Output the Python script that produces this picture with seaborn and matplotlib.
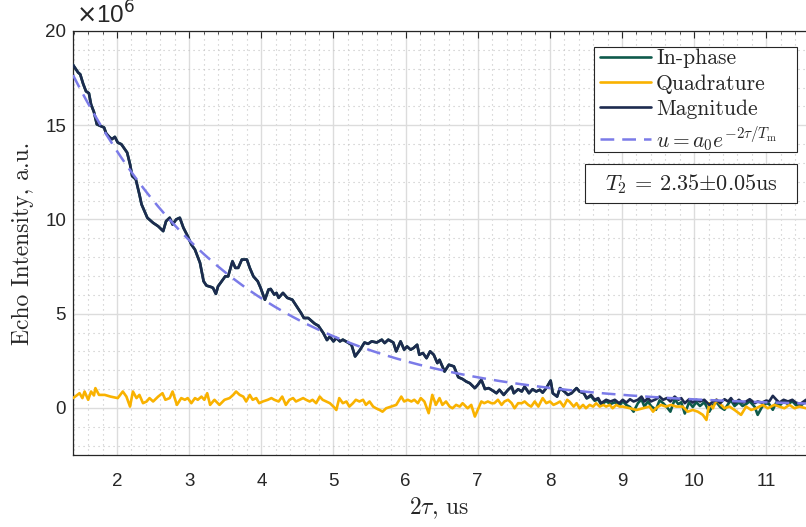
import numpy as np
import pandas as pd
import matplotlib
matplotlib.use("Agg")
import matplotlib.pyplot as plt
from matplotlib.lines import Line2D
from matplotlib.patches import Rectangle
from matplotlib.ticker import MultipleLocator
import seaborn as sns

# Echo decay, values in units of 1e6 a.u.; time axis 2*tau in us
MAG_X = [1.39, 1.46, 1.49, 1.53, 1.57, 1.61, 1.64, 1.68, 1.72, 1.77, 1.82, 1.85, 1.90, 1.93, 1.97,
         2.01, 2.06, 2.11, 2.14, 2.18, 2.21, 2.26, 2.31, 2.34, 2.38, 2.42, 2.50, 2.57, 2.64, 2.68,
         2.73, 2.77, 2.82, 2.87, 2.92, 2.98, 3.03, 3.08, 3.15, 3.20, 3.24, 3.30, 3.33, 3.37, 3.40,
         3.45, 3.50, 3.54, 3.60, 3.64, 3.68, 3.73, 3.80, 3.84, 3.89, 3.95, 3.99, 4.05, 4.10, 4.13,
         4.18, 4.21, 4.24, 4.30, 4.36, 4.43, 4.49, 4.55, 4.59, 4.65, 4.70, 4.74, 4.79, 4.86, 4.91,
         4.95, 5.00, 5.04, 5.09, 5.13, 5.20, 5.25, 5.30, 5.37, 5.43, 5.48, 5.53, 5.60, 5.67, 5.71,
         5.76, 5.83, 5.87, 5.93, 5.98, 6.02, 6.07, 6.11, 6.16, 6.19, 6.24, 6.29, 6.34, 6.39, 6.44,
         6.47, 6.54, 6.60, 6.67, 6.73, 6.79, 6.84, 6.89, 6.96, 7.00, 7.05, 7.10, 7.15, 7.19, 7.26,
         7.30, 7.36, 7.42, 7.47, 7.50, 7.56, 7.61, 7.65, 7.71, 7.76, 7.81, 7.86, 7.90, 7.95, 8.01,
         8.04, 8.10, 8.14, 8.20, 8.25, 8.30, 8.37, 8.41, 8.47, 8.51, 8.57, 8.62, 8.67, 8.71, 8.78,
         8.84, 8.90, 8.96, 9.01, 9.06, 9.11, 9.16, 9.22, 9.27, 9.31, 9.36, 9.40, 9.47, 9.52, 9.57,
         9.62, 9.67, 9.73, 9.78, 9.82, 9.87, 9.93, 9.98, 10.03, 10.08, 10.14, 10.21, 10.26, 10.31, 10.36,
         10.42, 10.47, 10.51, 10.56, 10.62, 10.67, 10.72, 10.77, 10.84, 10.88, 10.94, 11.00, 11.04, 11.09, 11.14,
         11.18, 11.24, 11.30, 11.36, 11.41, 11.47, 11.55]
MAG_Y = [18.20, 17.80, 17.70, 17.20, 16.80, 16.70, 16.10, 15.70, 15.05, 14.96, 14.88, 14.56, 14.35, 14.26, 14.38,
         14.08, 13.99, 13.72, 13.55, 12.93, 12.30, 12.13, 11.33, 10.80, 10.44, 10.09, 9.82, 9.64, 9.38, 9.91,
         10.09, 9.73, 10.00, 10.09, 9.56, 9.11, 8.67, 8.40, 7.70, 6.72, 6.49, 6.42, 6.37, 6.05, 6.45,
         6.72, 6.98, 6.98, 7.78, 7.43, 7.43, 7.87, 7.87, 7.43, 6.98, 6.72, 6.37, 5.74, 6.28, 6.31,
         6.01, 6.10, 5.84, 6.10, 5.84, 5.74, 5.39, 5.04, 4.77, 4.77, 4.60, 4.47, 4.36, 3.97, 3.60,
         3.79, 3.53, 3.71, 3.53, 3.62, 3.47, 3.35, 2.73, 3.09, 3.47, 3.40, 3.53, 3.47, 3.62, 3.44,
         3.62, 3.47, 3.00, 3.53, 3.09, 3.26, 3.09, 3.18, 3.35, 2.82, 2.91, 2.64, 3.00, 2.82, 2.38,
         2.55, 1.93, 2.29, 2.20, 1.63, 1.53, 1.40, 1.31, 1.05, 1.22, 1.49, 1.00, 1.05, 0.96, 0.78,
         0.96, 0.69, 0.96, 1.13, 0.78, 0.99, 0.87, 1.13, 0.78, 0.99, 0.87, 0.96, 0.81, 1.05, 1.45,
         0.78, 0.60, 1.05, 0.87, 0.69, 0.78, 1.05, 0.87, 0.78, 0.52, 0.69, 0.43, 0.52, 0.25, 0.43,
         0.34, 0.43, 0.25, 0.43, 0.28, 0.46, 0.34, 0.43, 0.60, 0.34, 0.52, 0.34, 0.46, 0.60, 0.43,
         0.52, 0.34, 0.60, 0.43, 0.52, 0.25, 0.46, 0.28, 0.43, 0.34, 0.43, 0.16, 0.34, 0.43, 0.25,
         0.46, 0.34, 0.52, 0.25, 0.43, 0.28, 0.34, 0.46, 0.25, 0.34, 0.28, 0.39, 0.34, 0.64, 0.43,
         0.28, 0.43, 0.34, 0.43, 0.28, 0.21, 0.43]

# In-phase channel: coincides with the magnitude early on, separates in the noisy tail
IN_PHASE_TAIL_X = [8.51, 8.57, 8.62, 8.67, 8.71, 8.78, 8.84, 8.90, 8.96, 9.01, 9.06, 9.11, 9.16, 9.22, 9.27,
                   9.31, 9.36, 9.40, 9.47, 9.52, 9.57, 9.62, 9.67, 9.73, 9.78, 9.82, 9.87, 9.93, 9.98, 10.03,
                   10.08, 10.14, 10.21, 10.26, 10.31, 10.36, 10.42, 10.47, 10.51, 10.56, 10.62, 10.67, 10.72, 10.77, 10.84,
                   10.88, 10.94, 11.00, 11.04, 11.09, 11.14, 11.18, 11.24, 11.30, 11.36, 11.41, 11.47, 11.55]
IN_PHASE_TAIL_Y = [0.50, 0.62, 0.38, 0.45, 0.18, 0.35, 0.20, 0.30, 0.10, 0.35, 0.15, 0.05, -0.20, 0.25, 0.45,
                   0.07, 0.35, 0.10, -0.10, 0.40, 0.25, 0.05, -0.20, 0.45, 0.20, 0.30, -0.30, 0.30, 0.05, 0.30,
                   0.10, 0.30, -0.20, 0.15, 0.30, 0.05, -0.10, 0.20, 0.40, 0.10, 0.30, 0.10, 0.20, 0.35, 0.05,
                   -0.37, 0.05, 0.25, 0.20, -0.10, 0.30, 0.10, 0.35, 0.20, 0.35, 0.15, 0.10, 0.35]

QUAD_X = [1.39, 1.44, 1.48, 1.52, 1.55, 1.60, 1.64, 1.68, 1.70, 1.75, 1.83, 1.91, 1.97, 2.01, 2.08,
          2.13, 2.18, 2.22, 2.27, 2.31, 2.36, 2.41, 2.45, 2.50, 2.57, 2.63, 2.67, 2.73, 2.77, 2.83,
          2.89, 2.94, 2.98, 3.03, 3.08, 3.12, 3.17, 3.21, 3.25, 3.29, 3.35, 3.42, 3.49, 3.56, 3.61,
          3.65, 3.70, 3.75, 3.79, 3.84, 3.88, 3.93, 3.97, 4.02, 4.09, 4.14, 4.18, 4.24, 4.29, 4.34,
          4.39, 4.44, 4.48, 4.53, 4.58, 4.62, 4.67, 4.71, 4.76, 4.81, 4.85, 4.90, 4.95, 5.00, 5.04,
          5.08, 5.13, 5.18, 5.22, 5.27, 5.31, 5.36, 5.41, 5.45, 5.50, 5.55, 5.59, 5.64, 5.68, 5.73,
          5.80, 5.87, 5.94, 5.98, 6.03, 6.08, 6.12, 6.17, 6.21, 6.26, 6.32, 6.37, 6.42, 6.47, 6.51,
          6.56, 6.61, 6.65, 6.70, 6.75, 6.79, 6.86, 6.91, 6.96, 7.00, 7.05, 7.09, 7.14, 7.19, 7.23,
          7.28, 7.33, 7.37, 7.42, 7.47, 7.51, 7.56, 7.61, 7.65, 7.70, 7.74, 7.79, 7.84, 7.90, 7.95,
          8.00, 8.05, 8.10, 8.14, 8.19, 8.24, 8.27, 8.33, 8.37, 8.41, 8.46, 8.50, 8.55, 8.60, 8.64,
          8.69, 8.74, 8.78, 8.83, 8.87, 8.92, 8.97, 9.01, 9.11, 9.20, 9.29, 9.38, 9.43, 9.47, 9.54,
          9.61, 9.68, 9.75, 9.84, 9.91, 9.98, 10.05, 10.12, 10.17, 10.21, 10.26, 10.31, 10.35, 10.42, 10.49,
          10.56, 10.65, 10.72, 10.79, 10.86, 10.95, 11.02, 11.11, 11.18, 11.25, 11.32, 11.39, 11.46, 11.55]
QUAD_Y = [0.52, 0.66, 0.78, 0.52, 0.87, 0.43, 0.87, 0.66, 1.05, 0.69, 0.69, 0.60, 0.55, 0.52, 0.87,
          0.60, 0.07, 0.87, 0.52, 0.69, 0.25, 0.34, 0.52, 0.34, 0.60, 0.78, 0.43, 0.52, 0.87, 0.16,
          0.52, 0.43, 0.52, 0.25, 0.52, 0.43, 0.60, 0.43, 0.78, 0.16, 0.43, 0.16, 0.43, 0.52, 0.69,
          0.87, 0.69, 0.60, 0.34, 0.69, 0.43, 0.52, 0.25, 0.34, 0.43, 0.52, 0.43, 0.34, 0.60, 0.16,
          0.43, 0.52, 0.34, 0.43, 0.52, 0.43, 0.34, 0.43, 0.25, 0.60, 0.43, 0.34, 0.25, 0.07, -0.11,
          0.52, 0.25, 0.34, 0.07, 0.25, 0.43, 0.34, 0.43, 0.16, 0.34, 0.07, -0.02, -0.11, -0.20, -0.02,
          0.07, 0.16, 0.60, 0.34, 0.43, 0.34, 0.43, 0.25, 0.52, 0.34, -0.28, 0.69, 0.16, 0.52, 0.16,
          0.34, 0.07, -0.02, 0.16, 0.07, 0.25, -0.02, 0.16, -0.46, -0.11, 0.34, 0.25, 0.34, 0.25, 0.25,
          0.43, 0.16, 0.34, 0.43, 0.25, -0.02, 0.25, 0.25, 0.34, 0.16, 0.07, 0.34, 0.07, 0.52, 0.25,
          0.34, 0.16, 0.25, 0.34, 0.07, 0.43, 0.34, 0.07, 0.25, -0.02, 0.16, -0.02, 0.16, 0.07, 0.25,
          0.07, 0.16, 0.07, 0.16, -0.02, 0.16, 0.07, 0.07, -0.02, -0.11, -0.02, 0.07, -0.20, -0.02, 0.16,
          0.07, 0.16, 0.07, 0.07, -0.20, -0.11, -0.20, -0.37, -0.64, 0.25, -0.02, 0.43, 0.25, -0.02, 0.07,
          -0.11, -0.37, 0.07, -0.11, -0.02, 0.16, -0.02, 0.16, 0.07, -0.02, 0.16, -0.02, 0.07, -0.02]

# Mono-exponential fit u = a0 * exp(-2tau / Tm)
FIT_A0 = 31.9
T2_US = 2.35
T2_ERR_US = 0.05

SERIES_NAMES = ["In-phase", "Quadrature", "Magnitude"]
FIT_LABEL = r"$u=a_0e^{-2\tau/T_\mathrm{m}}$"
COLORS = {"In-phase": "#0e5a4b", "Quadrature": "#f9b200", "Magnitude": "#1d2b4f", "fit": "#7b7be8"}
DASH = (0, (5.5, 3.2))

n_head = len(MAG_X) - len(IN_PHASE_TAIL_X)
in_x = MAG_X[:n_head] + IN_PHASE_TAIL_X
in_y = MAG_Y[:n_head] + IN_PHASE_TAIL_Y

df = pd.concat([
    pd.DataFrame({"t": in_x, "v": in_y, "series": "In-phase"}),
    pd.DataFrame({"t": QUAD_X, "v": QUAD_Y, "series": "Quadrature"}),
    pd.DataFrame({"t": MAG_X, "v": MAG_Y, "series": "Magnitude"}),
], ignore_index=True)

fit_t = np.array(MAG_X)
fit_df = pd.DataFrame({"t": fit_t, "v": FIT_A0 * np.exp(-fit_t / T2_US)})

sns.set_theme(style="white")
plt.rcParams["font.family"] = ["Liberation Sans", "DejaVu Sans"]
plt.rcParams["mathtext.fontset"] = "cm"
plt.rcParams["axes.unicode_minus"] = False
SERIF = ["cmr10", "DejaVu Serif"]

fig = plt.figure(figsize=(8.06, 5.27), dpi=100)
ax = fig.add_axes([0.0906, 0.1366, 0.9094, 0.8046])

for name in SERIES_NAMES:
    sns.lineplot(data=df[df.series == name], x="t", y="v", ax=ax, color=COLORS[name],
                 lw=1.9, estimator=None, sort=False, legend=False, zorder=3)
sns.lineplot(data=fit_df, x="t", y="v", ax=ax, color=COLORS["fit"], lw=1.8,
             linestyle=DASH, estimator=None, legend=False, zorder=4)

ax.set_xlim(1.39, 11.55)
ax.set_ylim(-2.5, 20)
ax.xaxis.set_major_locator(MultipleLocator(1))
ax.xaxis.set_minor_locator(MultipleLocator(0.2))
ax.yaxis.set_major_locator(MultipleLocator(5))
ax.yaxis.set_minor_locator(MultipleLocator(1))
ax.grid(which="major", color="#dcdcdc", lw=1.0, zorder=0)
ax.grid(which="minor", color="#c4c4c4", lw=0.8, linestyle=(0, (1, 3.5)), zorder=0)
ax.tick_params(which="both", direction="in", top=True, right=False, color="#262626",
               labelsize=13.5, labelcolor="#262626")
ax.tick_params(which="major", length=5, width=0.8)
ax.tick_params(which="minor", length=2.5, width=0.6)
ax.tick_params(axis="x", which="major", pad=13)
ax.tick_params(axis="y", which="major", pad=5)
for side in ["left", "bottom", "top"]:
    ax.spines[side].set_color("#262626")
    ax.spines[side].set_linewidth(0.9)
ax.spines["right"].set_visible(False)

ax.set_xlabel(r"2$\tau$, us", fontsize=17, family=SERIF, labelpad=4)
ax.set_ylabel("Echo Intensity, a.u.", fontsize=17, family=SERIF, labelpad=8)
ax.text(0.004, 1.006, r"$\times$10$^{6}$", transform=ax.transAxes, fontsize=17.5,
        color="#262626", ha="left", va="bottom", math_fontfamily="dejavusans")

# Legend: framed panel in the upper right
ax.add_patch(Rectangle((0.7108, 0.7146), 0.2769, 0.2476, transform=ax.transAxes,
                       fc="white", ec="#262626", lw=0.8, zorder=5))
handles = [Line2D([], [], color=COLORS[n], lw=1.9) for n in SERIES_NAMES]
handles.append(Line2D([], [], color=COLORS["fit"], lw=1.8, linestyle=DASH))
leg = ax.legend(handles, SERIES_NAMES + [FIT_LABEL], loc="upper left",
                bbox_to_anchor=(0.719, 0.958), prop={"family": SERIF, "size": 15.5},
                frameon=False, handlelength=2.35, handletextpad=0.25,
                labelspacing=0.27, borderpad=0.0, borderaxespad=0)
leg.set_zorder(6)

# Fitted decay time in its own framed box
ax.add_patch(Rectangle((0.6985, 0.5943), 0.2892, 0.092, transform=ax.transAxes,
                       fc="white", ec="#262626", lw=0.8, zorder=5))
ax.text(0.8431, 0.640, rf"$T_2$ = {T2_US:.2f}$\pm${T2_ERR_US:.2f}us", transform=ax.transAxes,
        ha="center", va="center", fontsize=16, family=SERIF, zorder=6)

fig.savefig("out.png", dpi=100)
